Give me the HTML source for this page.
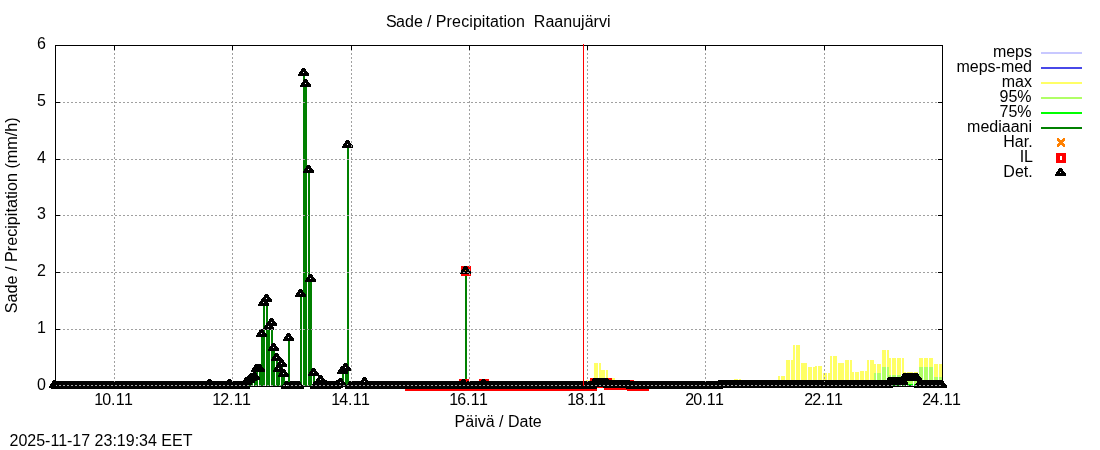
<!DOCTYPE html>
<html><head><meta charset="utf-8"><title>Sade / Precipitation Raanujärvi</title>
<style>
html,body{margin:0;padding:0;background:#fff;}
body{width:1100px;height:450px;overflow:hidden;}
svg{display:block;will-change:transform;}
text{font-family:"Liberation Sans",sans-serif;font-size:16px;fill:#000;}
</style></head><body>
<svg width="1100" height="450" viewBox="0 0 1100 450">
<rect width="1100" height="450" fill="#fff"/>
<g shape-rendering="crispEdges">
<g id="bars">
<rect x="586" y="380" width="2" height="6" fill="#ffff66"/>
<rect x="589" y="380" width="2" height="6" fill="#ffff66"/>
<rect x="594" y="363" width="2" height="23" fill="#ffff66"/>
<rect x="596" y="363" width="2" height="23" fill="#ffff66"/>
<rect x="599" y="363" width="2" height="23" fill="#ffff66"/>
<rect x="601" y="370" width="2" height="16" fill="#ffff66"/>
<rect x="603" y="370" width="2" height="16" fill="#ffff66"/>
<rect x="606" y="370" width="2" height="16" fill="#ffff66"/>
<rect x="611" y="378" width="2" height="8" fill="#ffff66"/>
<rect x="613" y="378" width="2" height="8" fill="#ffff66"/>
<rect x="734" y="379" width="2" height="7" fill="#ffff66"/>
<rect x="736" y="379" width="2" height="7" fill="#ffff66"/>
<rect x="739" y="379" width="2" height="7" fill="#ffff66"/>
<rect x="778" y="376" width="2" height="10" fill="#ffff66"/>
<rect x="781" y="376" width="2" height="10" fill="#ffff66"/>
<rect x="783" y="376" width="2" height="10" fill="#ffff66"/>
<rect x="786" y="360" width="2" height="26" fill="#ffff66"/>
<rect x="788" y="360" width="2" height="26" fill="#ffff66"/>
<rect x="791" y="360" width="2" height="26" fill="#ffff66"/>
<rect x="793" y="345" width="2" height="41" fill="#ffff66"/>
<rect x="796" y="345" width="2" height="41" fill="#ffff66"/>
<rect x="798" y="345" width="2" height="41" fill="#ffff66"/>
<rect x="801" y="363" width="2" height="23" fill="#ffff66"/>
<rect x="803" y="363" width="2" height="23" fill="#ffff66"/>
<rect x="805" y="363" width="2" height="23" fill="#ffff66"/>
<rect x="808" y="367" width="2" height="19" fill="#ffff66"/>
<rect x="810" y="367" width="2" height="19" fill="#ffff66"/>
<rect x="813" y="367" width="2" height="19" fill="#ffff66"/>
<rect x="815" y="366" width="2" height="20" fill="#ffff66"/>
<rect x="818" y="366" width="2" height="20" fill="#ffff66"/>
<rect x="820" y="366" width="2" height="20" fill="#ffff66"/>
<rect x="823" y="373" width="2" height="13" fill="#ffff66"/>
<rect x="825" y="373" width="2" height="13" fill="#ffff66"/>
<rect x="828" y="373" width="2" height="13" fill="#ffff66"/>
<rect x="830" y="356" width="2" height="30" fill="#ffff66"/>
<rect x="833" y="356" width="2" height="30" fill="#ffff66"/>
<rect x="835" y="356" width="2" height="30" fill="#ffff66"/>
<rect x="838" y="363" width="2" height="23" fill="#ffff66"/>
<rect x="840" y="363" width="2" height="23" fill="#ffff66"/>
<rect x="842" y="363" width="2" height="23" fill="#ffff66"/>
<rect x="845" y="360" width="2" height="26" fill="#ffff66"/>
<rect x="847" y="360" width="2" height="26" fill="#ffff66"/>
<rect x="850" y="360" width="2" height="26" fill="#ffff66"/>
<rect x="852" y="372" width="2" height="14" fill="#ffff66"/>
<rect x="855" y="372" width="2" height="14" fill="#ffff66"/>
<rect x="857" y="372" width="2" height="14" fill="#ffff66"/>
<rect x="860" y="371" width="2" height="15" fill="#ffff66"/>
<rect x="862" y="371" width="2" height="15" fill="#ffff66"/>
<rect x="865" y="371" width="2" height="15" fill="#ffff66"/>
<rect x="867" y="360" width="2" height="26" fill="#ffff66"/>
<rect x="870" y="360" width="2" height="26" fill="#ffff66"/>
<rect x="872" y="360" width="2" height="26" fill="#ffff66"/>
<rect x="874" y="364" width="2" height="22" fill="#ffff66"/>
<rect x="877" y="364" width="2" height="22" fill="#ffff66"/>
<rect x="879" y="364" width="2" height="22" fill="#ffff66"/>
<rect x="882" y="350" width="2" height="36" fill="#ffff66"/>
<rect x="884" y="350" width="2" height="36" fill="#ffff66"/>
<rect x="887" y="350" width="2" height="36" fill="#ffff66"/>
<rect x="889" y="358" width="2" height="28" fill="#ffff66"/>
<rect x="892" y="358" width="2" height="28" fill="#ffff66"/>
<rect x="894" y="358" width="2" height="28" fill="#ffff66"/>
<rect x="897" y="358" width="2" height="28" fill="#ffff66"/>
<rect x="899" y="358" width="2" height="28" fill="#ffff66"/>
<rect x="902" y="358" width="2" height="28" fill="#ffff66"/>
<rect x="904" y="372" width="2" height="14" fill="#ffff66"/>
<rect x="907" y="372" width="2" height="14" fill="#ffff66"/>
<rect x="909" y="372" width="2" height="14" fill="#ffff66"/>
<rect x="911" y="372" width="2" height="14" fill="#ffff66"/>
<rect x="914" y="372" width="2" height="14" fill="#ffff66"/>
<rect x="916" y="372" width="2" height="14" fill="#ffff66"/>
<rect x="919" y="358" width="2" height="28" fill="#ffff66"/>
<rect x="921" y="358" width="2" height="28" fill="#ffff66"/>
<rect x="924" y="358" width="2" height="28" fill="#ffff66"/>
<rect x="926" y="358" width="2" height="28" fill="#ffff66"/>
<rect x="929" y="358" width="2" height="28" fill="#ffff66"/>
<rect x="931" y="358" width="2" height="28" fill="#ffff66"/>
<rect x="934" y="364" width="2" height="22" fill="#ffff66"/>
<rect x="936" y="364" width="2" height="22" fill="#ffff66"/>
<rect x="939" y="364" width="2" height="22" fill="#ffff66"/>
<rect x="941" y="364" width="1" height="22" fill="#ffff66"/>
<rect x="874" y="373" width="2" height="13" fill="#b0ff66"/>
<rect x="877" y="373" width="2" height="13" fill="#b0ff66"/>
<rect x="879" y="373" width="2" height="13" fill="#b0ff66"/>
<rect x="882" y="367" width="2" height="19" fill="#b0ff66"/>
<rect x="884" y="367" width="2" height="19" fill="#b0ff66"/>
<rect x="887" y="367" width="2" height="19" fill="#b0ff66"/>
<rect x="889" y="375" width="2" height="11" fill="#b0ff66"/>
<rect x="892" y="375" width="2" height="11" fill="#b0ff66"/>
<rect x="894" y="375" width="2" height="11" fill="#b0ff66"/>
<rect x="897" y="375" width="2" height="11" fill="#b0ff66"/>
<rect x="899" y="375" width="2" height="11" fill="#b0ff66"/>
<rect x="902" y="375" width="2" height="11" fill="#b0ff66"/>
<rect x="904" y="379" width="2" height="7" fill="#b0ff66"/>
<rect x="907" y="379" width="2" height="7" fill="#b0ff66"/>
<rect x="909" y="379" width="2" height="7" fill="#b0ff66"/>
<rect x="911" y="379" width="2" height="7" fill="#b0ff66"/>
<rect x="914" y="379" width="2" height="7" fill="#b0ff66"/>
<rect x="916" y="379" width="2" height="7" fill="#b0ff66"/>
<rect x="919" y="367" width="2" height="19" fill="#b0ff66"/>
<rect x="921" y="367" width="2" height="19" fill="#b0ff66"/>
<rect x="924" y="367" width="2" height="19" fill="#b0ff66"/>
<rect x="926" y="367" width="2" height="19" fill="#b0ff66"/>
<rect x="929" y="367" width="2" height="19" fill="#b0ff66"/>
<rect x="931" y="367" width="2" height="19" fill="#b0ff66"/>
<rect x="934" y="377" width="2" height="9" fill="#b0ff66"/>
<rect x="936" y="377" width="2" height="9" fill="#b0ff66"/>
<rect x="939" y="377" width="2" height="9" fill="#b0ff66"/>
<rect x="941" y="377" width="1" height="9" fill="#b0ff66"/>
<rect x="904" y="384" width="2" height="2" fill="#00ff00"/>
<rect x="907" y="384" width="2" height="2" fill="#00ff00"/>
<rect x="909" y="384" width="2" height="2" fill="#00ff00"/>
<rect x="911" y="384" width="2" height="2" fill="#00ff00"/>
<rect x="914" y="384" width="2" height="2" fill="#00ff00"/>
<rect x="916" y="384" width="2" height="2" fill="#00ff00"/>
<rect x="889" y="385" width="2" height="1" fill="#008000"/>
<rect x="892" y="385" width="2" height="1" fill="#008000"/>
<rect x="894" y="385" width="2" height="1" fill="#008000"/>
<rect x="897" y="385" width="2" height="1" fill="#008000"/>
<rect x="899" y="385" width="2" height="1" fill="#008000"/>
<rect x="902" y="385" width="2" height="1" fill="#008000"/>
<rect x="904" y="385" width="2" height="1" fill="#008000"/>
<rect x="907" y="385" width="2" height="1" fill="#008000"/>
<rect x="909" y="385" width="2" height="1" fill="#008000"/>
<rect x="209" y="384" width="2" height="2" fill="#008000"/>
<rect x="229" y="384" width="2" height="2" fill="#008000"/>
<rect x="246" y="382" width="2" height="4" fill="#008000"/>
<rect x="249" y="380" width="2" height="6" fill="#008000"/>
<rect x="251" y="378" width="2" height="8" fill="#008000"/>
<rect x="254" y="377" width="2" height="9" fill="#008000"/>
<rect x="256" y="369" width="2" height="17" fill="#008000"/>
<rect x="259" y="369" width="2" height="17" fill="#008000"/>
<rect x="261" y="334" width="2" height="52" fill="#008000"/>
<rect x="263" y="303" width="2" height="83" fill="#008000"/>
<rect x="266" y="299" width="2" height="87" fill="#008000"/>
<rect x="268" y="327" width="2" height="59" fill="#008000"/>
<rect x="271" y="323" width="2" height="63" fill="#008000"/>
<rect x="273" y="348" width="2" height="38" fill="#008000"/>
<rect x="276" y="358" width="2" height="28" fill="#008000"/>
<rect x="278" y="369" width="2" height="17" fill="#008000"/>
<rect x="281" y="364" width="2" height="22" fill="#008000"/>
<rect x="283" y="374" width="2" height="12" fill="#008000"/>
<rect x="288" y="338" width="2" height="48" fill="#008000"/>
<rect x="300" y="294" width="2" height="92" fill="#008000"/>
<rect x="303" y="73" width="2" height="313" fill="#008000"/>
<rect x="305" y="84" width="2" height="302" fill="#008000"/>
<rect x="308" y="170" width="2" height="216" fill="#008000"/>
<rect x="310" y="279" width="2" height="107" fill="#008000"/>
<rect x="313" y="373" width="2" height="13" fill="#008000"/>
<rect x="320" y="380" width="2" height="6" fill="#008000"/>
<rect x="340" y="383" width="2" height="3" fill="#008000"/>
<rect x="342" y="371" width="2" height="15" fill="#008000"/>
<rect x="345" y="368" width="2" height="18" fill="#008000"/>
<rect x="347" y="145" width="2" height="241" fill="#008000"/>
<rect x="364" y="382" width="2" height="4" fill="#008000"/>
<rect x="465" y="271" width="2" height="115" fill="#008000"/>
</g>
<defs><path id="t" d="M-1 -4h3v1h-3zM-2 -3h5v1h-5zM-2 -2h5v1h-5zM-3 -1h7v1h-7zM-4 0h4v1h-4zM1 0h4v1h-4zM-4 1h10v1h-10zM-5 2h11v1h-11zM-5 3h11v1h-11z" fill="#000"/><path id="q" d="M-4 -4h10v10h-10zM0 -1v4h2v-4z" fill="#f00" fill-rule="evenodd"/><path id="x" d="M-3 -4h2v1h-2zM3 -4h2v1h-2zM-3 -3h3v1h-3zM2 -3h3v1h-3zM-3 -2h8v1h-8zM-2 -1h6v1h-6zM-1 0h4v1h-4zM-2 1h6v1h-6zM-3 2h8v1h-8zM-3 3h3v1h-3zM2 3h3v1h-3zM-3 4h2v1h-2zM3 4h2v1h-2z" fill="#ff8000"/></defs>
<use href="#x" x="465" y="270"/>
<g id="il">
<use href="#q" x="409" y="385"/>
<use href="#q" x="411" y="385"/>
<use href="#q" x="414" y="385"/>
<use href="#q" x="416" y="385"/>
<use href="#q" x="419" y="385"/>
<use href="#q" x="421" y="385"/>
<use href="#q" x="424" y="385"/>
<use href="#q" x="426" y="385"/>
<use href="#q" x="429" y="385"/>
<use href="#q" x="431" y="385"/>
<use href="#q" x="433" y="385"/>
<use href="#q" x="436" y="385"/>
<use href="#q" x="438" y="385"/>
<use href="#q" x="441" y="385"/>
<use href="#q" x="443" y="385"/>
<use href="#q" x="446" y="385"/>
<use href="#q" x="448" y="385"/>
<use href="#q" x="451" y="385"/>
<use href="#q" x="453" y="385"/>
<use href="#q" x="456" y="385"/>
<use href="#q" x="458" y="385"/>
<use href="#q" x="461" y="385"/>
<use href="#q" x="463" y="383"/>
<use href="#q" x="465" y="270"/>
<use href="#q" x="468" y="385"/>
<use href="#q" x="470" y="385"/>
<use href="#q" x="473" y="385"/>
<use href="#q" x="475" y="385"/>
<use href="#q" x="478" y="385"/>
<use href="#q" x="480" y="385"/>
<use href="#q" x="483" y="383"/>
<use href="#q" x="485" y="385"/>
<use href="#q" x="488" y="385"/>
<use href="#q" x="490" y="385"/>
<use href="#q" x="493" y="385"/>
<use href="#q" x="495" y="385"/>
<use href="#q" x="498" y="385"/>
<use href="#q" x="500" y="385"/>
<use href="#q" x="502" y="385"/>
<use href="#q" x="505" y="385"/>
<use href="#q" x="507" y="385"/>
<use href="#q" x="510" y="385"/>
<use href="#q" x="512" y="385"/>
<use href="#q" x="515" y="385"/>
<use href="#q" x="517" y="385"/>
<use href="#q" x="520" y="385"/>
<use href="#q" x="522" y="385"/>
<use href="#q" x="525" y="385"/>
<use href="#q" x="527" y="385"/>
<use href="#q" x="530" y="385"/>
<use href="#q" x="532" y="385"/>
<use href="#q" x="534" y="385"/>
<use href="#q" x="537" y="385"/>
<use href="#q" x="539" y="385"/>
<use href="#q" x="542" y="385"/>
<use href="#q" x="544" y="385"/>
<use href="#q" x="547" y="385"/>
<use href="#q" x="549" y="385"/>
<use href="#q" x="552" y="385"/>
<use href="#q" x="554" y="385"/>
<use href="#q" x="557" y="385"/>
<use href="#q" x="559" y="385"/>
<use href="#q" x="562" y="385"/>
<use href="#q" x="564" y="385"/>
<use href="#q" x="566" y="385"/>
<use href="#q" x="569" y="385"/>
<use href="#q" x="571" y="385"/>
<use href="#q" x="574" y="385"/>
<use href="#q" x="576" y="385"/>
<use href="#q" x="579" y="385"/>
<use href="#q" x="581" y="385"/>
<use href="#q" x="584" y="385"/>
<use href="#q" x="586" y="385"/>
<use href="#q" x="589" y="385"/>
<use href="#q" x="591" y="385"/>
<use href="#q" x="594" y="382"/>
<use href="#q" x="596" y="382"/>
<use href="#q" x="599" y="382"/>
<use href="#q" x="601" y="382"/>
<use href="#q" x="603" y="382"/>
<use href="#q" x="606" y="382"/>
<use href="#q" x="608" y="384"/>
<use href="#q" x="611" y="384"/>
<use href="#q" x="613" y="384"/>
<use href="#q" x="616" y="384"/>
<use href="#q" x="618" y="384"/>
<use href="#q" x="621" y="384"/>
<use href="#q" x="623" y="384"/>
<use href="#q" x="626" y="384"/>
<use href="#q" x="628" y="384"/>
<use href="#q" x="631" y="385"/>
<use href="#q" x="633" y="385"/>
<use href="#q" x="635" y="385"/>
<use href="#q" x="638" y="385"/>
<use href="#q" x="640" y="385"/>
<use href="#q" x="643" y="385"/>
</g>
<g id="det">
<use href="#t" x="54" y="384"/>
<use href="#t" x="56" y="385"/>
<use href="#t" x="59" y="385"/>
<use href="#t" x="61" y="385"/>
<use href="#t" x="64" y="385"/>
<use href="#t" x="66" y="385"/>
<use href="#t" x="69" y="385"/>
<use href="#t" x="71" y="385"/>
<use href="#t" x="74" y="385"/>
<use href="#t" x="76" y="385"/>
<use href="#t" x="79" y="385"/>
<use href="#t" x="81" y="385"/>
<use href="#t" x="84" y="385"/>
<use href="#t" x="86" y="385"/>
<use href="#t" x="88" y="385"/>
<use href="#t" x="91" y="385"/>
<use href="#t" x="93" y="385"/>
<use href="#t" x="96" y="385"/>
<use href="#t" x="98" y="385"/>
<use href="#t" x="101" y="385"/>
<use href="#t" x="103" y="385"/>
<use href="#t" x="106" y="385"/>
<use href="#t" x="108" y="385"/>
<use href="#t" x="111" y="385"/>
<use href="#t" x="113" y="385"/>
<use href="#t" x="116" y="385"/>
<use href="#t" x="118" y="385"/>
<use href="#t" x="121" y="385"/>
<use href="#t" x="123" y="385"/>
<use href="#t" x="125" y="385"/>
<use href="#t" x="128" y="385"/>
<use href="#t" x="130" y="385"/>
<use href="#t" x="133" y="385"/>
<use href="#t" x="135" y="385"/>
<use href="#t" x="138" y="385"/>
<use href="#t" x="140" y="385"/>
<use href="#t" x="143" y="385"/>
<use href="#t" x="145" y="385"/>
<use href="#t" x="148" y="385"/>
<use href="#t" x="150" y="385"/>
<use href="#t" x="153" y="385"/>
<use href="#t" x="155" y="385"/>
<use href="#t" x="157" y="385"/>
<use href="#t" x="160" y="385"/>
<use href="#t" x="162" y="385"/>
<use href="#t" x="165" y="385"/>
<use href="#t" x="167" y="385"/>
<use href="#t" x="170" y="385"/>
<use href="#t" x="172" y="385"/>
<use href="#t" x="175" y="385"/>
<use href="#t" x="177" y="385"/>
<use href="#t" x="180" y="385"/>
<use href="#t" x="182" y="385"/>
<use href="#t" x="185" y="385"/>
<use href="#t" x="187" y="385"/>
<use href="#t" x="190" y="385"/>
<use href="#t" x="192" y="385"/>
<use href="#t" x="194" y="385"/>
<use href="#t" x="197" y="385"/>
<use href="#t" x="199" y="385"/>
<use href="#t" x="202" y="385"/>
<use href="#t" x="204" y="385"/>
<use href="#t" x="207" y="385"/>
<use href="#t" x="209" y="383"/>
<use href="#t" x="212" y="385"/>
<use href="#t" x="214" y="385"/>
<use href="#t" x="217" y="385"/>
<use href="#t" x="219" y="385"/>
<use href="#t" x="222" y="385"/>
<use href="#t" x="224" y="385"/>
<use href="#t" x="226" y="385"/>
<use href="#t" x="229" y="383"/>
<use href="#t" x="231" y="385"/>
<use href="#t" x="234" y="385"/>
<use href="#t" x="236" y="385"/>
<use href="#t" x="239" y="385"/>
<use href="#t" x="241" y="385"/>
<use href="#t" x="244" y="385"/>
<use href="#t" x="246" y="381"/>
<use href="#t" x="249" y="379"/>
<use href="#t" x="251" y="377"/>
<use href="#t" x="254" y="376"/>
<use href="#t" x="256" y="368"/>
<use href="#t" x="259" y="368"/>
<use href="#t" x="261" y="333"/>
<use href="#t" x="263" y="302"/>
<use href="#t" x="266" y="298"/>
<use href="#t" x="268" y="326"/>
<use href="#t" x="271" y="322"/>
<use href="#t" x="273" y="347"/>
<use href="#t" x="276" y="357"/>
<use href="#t" x="278" y="368"/>
<use href="#t" x="281" y="363"/>
<use href="#t" x="283" y="373"/>
<use href="#t" x="286" y="385"/>
<use href="#t" x="288" y="337"/>
<use href="#t" x="291" y="385"/>
<use href="#t" x="293" y="385"/>
<use href="#t" x="295" y="385"/>
<use href="#t" x="298" y="385"/>
<use href="#t" x="300" y="293"/>
<use href="#t" x="303" y="72"/>
<use href="#t" x="305" y="83"/>
<use href="#t" x="308" y="169"/>
<use href="#t" x="310" y="278"/>
<use href="#t" x="313" y="372"/>
<use href="#t" x="315" y="385"/>
<use href="#t" x="318" y="385"/>
<use href="#t" x="320" y="379"/>
<use href="#t" x="323" y="385"/>
<use href="#t" x="325" y="384"/>
<use href="#t" x="327" y="385"/>
<use href="#t" x="330" y="385"/>
<use href="#t" x="332" y="385"/>
<use href="#t" x="335" y="385"/>
<use href="#t" x="337" y="384"/>
<use href="#t" x="340" y="382"/>
<use href="#t" x="342" y="370"/>
<use href="#t" x="345" y="367"/>
<use href="#t" x="347" y="144"/>
<use href="#t" x="350" y="385"/>
<use href="#t" x="352" y="385"/>
<use href="#t" x="355" y="385"/>
<use href="#t" x="357" y="385"/>
<use href="#t" x="360" y="385"/>
<use href="#t" x="362" y="385"/>
<use href="#t" x="364" y="381"/>
<use href="#t" x="367" y="385"/>
<use href="#t" x="369" y="385"/>
<use href="#t" x="372" y="385"/>
<use href="#t" x="374" y="385"/>
<use href="#t" x="377" y="385"/>
<use href="#t" x="379" y="385"/>
<use href="#t" x="382" y="385"/>
<use href="#t" x="384" y="385"/>
<use href="#t" x="387" y="385"/>
<use href="#t" x="389" y="385"/>
<use href="#t" x="392" y="385"/>
<use href="#t" x="394" y="385"/>
<use href="#t" x="396" y="385"/>
<use href="#t" x="399" y="385"/>
<use href="#t" x="401" y="385"/>
<use href="#t" x="404" y="385"/>
<use href="#t" x="406" y="385"/>
<use href="#t" x="409" y="385"/>
<use href="#t" x="411" y="385"/>
<use href="#t" x="414" y="385"/>
<use href="#t" x="416" y="385"/>
<use href="#t" x="419" y="385"/>
<use href="#t" x="421" y="385"/>
<use href="#t" x="424" y="385"/>
<use href="#t" x="426" y="385"/>
<use href="#t" x="429" y="385"/>
<use href="#t" x="431" y="385"/>
<use href="#t" x="433" y="385"/>
<use href="#t" x="436" y="385"/>
<use href="#t" x="438" y="385"/>
<use href="#t" x="441" y="385"/>
<use href="#t" x="443" y="385"/>
<use href="#t" x="446" y="385"/>
<use href="#t" x="448" y="385"/>
<use href="#t" x="451" y="385"/>
<use href="#t" x="453" y="385"/>
<use href="#t" x="456" y="385"/>
<use href="#t" x="458" y="385"/>
<use href="#t" x="461" y="385"/>
<use href="#t" x="463" y="383"/>
<use href="#t" x="465" y="270"/>
<use href="#t" x="468" y="385"/>
<use href="#t" x="470" y="385"/>
<use href="#t" x="473" y="385"/>
<use href="#t" x="475" y="385"/>
<use href="#t" x="478" y="385"/>
<use href="#t" x="480" y="385"/>
<use href="#t" x="483" y="383"/>
<use href="#t" x="485" y="385"/>
<use href="#t" x="488" y="385"/>
<use href="#t" x="490" y="385"/>
<use href="#t" x="493" y="385"/>
<use href="#t" x="495" y="385"/>
<use href="#t" x="498" y="385"/>
<use href="#t" x="500" y="385"/>
<use href="#t" x="502" y="385"/>
<use href="#t" x="505" y="385"/>
<use href="#t" x="507" y="385"/>
<use href="#t" x="510" y="385"/>
<use href="#t" x="512" y="385"/>
<use href="#t" x="515" y="385"/>
<use href="#t" x="517" y="385"/>
<use href="#t" x="520" y="385"/>
<use href="#t" x="522" y="385"/>
<use href="#t" x="525" y="385"/>
<use href="#t" x="527" y="385"/>
<use href="#t" x="530" y="385"/>
<use href="#t" x="532" y="385"/>
<use href="#t" x="534" y="385"/>
<use href="#t" x="537" y="385"/>
<use href="#t" x="539" y="385"/>
<use href="#t" x="542" y="385"/>
<use href="#t" x="544" y="385"/>
<use href="#t" x="547" y="385"/>
<use href="#t" x="549" y="385"/>
<use href="#t" x="552" y="385"/>
<use href="#t" x="554" y="385"/>
<use href="#t" x="557" y="385"/>
<use href="#t" x="559" y="385"/>
<use href="#t" x="562" y="385"/>
<use href="#t" x="564" y="385"/>
<use href="#t" x="566" y="385"/>
<use href="#t" x="569" y="385"/>
<use href="#t" x="571" y="385"/>
<use href="#t" x="574" y="385"/>
<use href="#t" x="576" y="385"/>
<use href="#t" x="579" y="385"/>
<use href="#t" x="581" y="385"/>
<use href="#t" x="584" y="385"/>
<use href="#t" x="586" y="385"/>
<use href="#t" x="589" y="385"/>
<use href="#t" x="591" y="385"/>
<use href="#t" x="594" y="382"/>
<use href="#t" x="596" y="382"/>
<use href="#t" x="599" y="382"/>
<use href="#t" x="601" y="382"/>
<use href="#t" x="603" y="382"/>
<use href="#t" x="606" y="382"/>
<use href="#t" x="608" y="384"/>
<use href="#t" x="611" y="384"/>
<use href="#t" x="613" y="384"/>
<use href="#t" x="616" y="384"/>
<use href="#t" x="618" y="384"/>
<use href="#t" x="621" y="384"/>
<use href="#t" x="623" y="384"/>
<use href="#t" x="626" y="384"/>
<use href="#t" x="628" y="384"/>
<use href="#t" x="631" y="385"/>
<use href="#t" x="633" y="385"/>
<use href="#t" x="635" y="385"/>
<use href="#t" x="638" y="385"/>
<use href="#t" x="640" y="385"/>
<use href="#t" x="643" y="385"/>
<use href="#t" x="645" y="385"/>
<use href="#t" x="648" y="385"/>
<use href="#t" x="650" y="385"/>
<use href="#t" x="653" y="385"/>
<use href="#t" x="655" y="385"/>
<use href="#t" x="658" y="385"/>
<use href="#t" x="660" y="385"/>
<use href="#t" x="663" y="385"/>
<use href="#t" x="665" y="385"/>
<use href="#t" x="668" y="385"/>
<use href="#t" x="670" y="385"/>
<use href="#t" x="672" y="385"/>
<use href="#t" x="675" y="385"/>
<use href="#t" x="677" y="385"/>
<use href="#t" x="680" y="385"/>
<use href="#t" x="682" y="385"/>
<use href="#t" x="685" y="385"/>
<use href="#t" x="687" y="385"/>
<use href="#t" x="690" y="385"/>
<use href="#t" x="692" y="385"/>
<use href="#t" x="695" y="385"/>
<use href="#t" x="697" y="385"/>
<use href="#t" x="700" y="385"/>
<use href="#t" x="702" y="385"/>
<use href="#t" x="704" y="385"/>
<use href="#t" x="707" y="385"/>
<use href="#t" x="709" y="385"/>
<use href="#t" x="712" y="385"/>
<use href="#t" x="714" y="385"/>
<use href="#t" x="717" y="385"/>
<use href="#t" x="719" y="384"/>
<use href="#t" x="722" y="384"/>
<use href="#t" x="724" y="384"/>
<use href="#t" x="727" y="384"/>
<use href="#t" x="729" y="384"/>
<use href="#t" x="732" y="384"/>
<use href="#t" x="734" y="384"/>
<use href="#t" x="736" y="384"/>
<use href="#t" x="739" y="384"/>
<use href="#t" x="741" y="384"/>
<use href="#t" x="744" y="384"/>
<use href="#t" x="746" y="384"/>
<use href="#t" x="749" y="384"/>
<use href="#t" x="751" y="384"/>
<use href="#t" x="754" y="384"/>
<use href="#t" x="756" y="384"/>
<use href="#t" x="759" y="384"/>
<use href="#t" x="761" y="384"/>
<use href="#t" x="764" y="384"/>
<use href="#t" x="766" y="384"/>
<use href="#t" x="769" y="384"/>
<use href="#t" x="771" y="384"/>
<use href="#t" x="773" y="384"/>
<use href="#t" x="776" y="384"/>
<use href="#t" x="778" y="384"/>
<use href="#t" x="781" y="384"/>
<use href="#t" x="783" y="384"/>
<use href="#t" x="786" y="384"/>
<use href="#t" x="788" y="384"/>
<use href="#t" x="791" y="384"/>
<use href="#t" x="793" y="384"/>
<use href="#t" x="796" y="384"/>
<use href="#t" x="798" y="384"/>
<use href="#t" x="801" y="384"/>
<use href="#t" x="803" y="384"/>
<use href="#t" x="805" y="384"/>
<use href="#t" x="808" y="384"/>
<use href="#t" x="810" y="384"/>
<use href="#t" x="813" y="384"/>
<use href="#t" x="815" y="384"/>
<use href="#t" x="818" y="384"/>
<use href="#t" x="820" y="384"/>
<use href="#t" x="823" y="384"/>
<use href="#t" x="825" y="384"/>
<use href="#t" x="828" y="384"/>
<use href="#t" x="830" y="384"/>
<use href="#t" x="833" y="384"/>
<use href="#t" x="835" y="384"/>
<use href="#t" x="838" y="384"/>
<use href="#t" x="840" y="384"/>
<use href="#t" x="842" y="384"/>
<use href="#t" x="845" y="384"/>
<use href="#t" x="847" y="384"/>
<use href="#t" x="850" y="384"/>
<use href="#t" x="852" y="384"/>
<use href="#t" x="855" y="384"/>
<use href="#t" x="857" y="384"/>
<use href="#t" x="860" y="384"/>
<use href="#t" x="862" y="384"/>
<use href="#t" x="865" y="384"/>
<use href="#t" x="867" y="384"/>
<use href="#t" x="870" y="384"/>
<use href="#t" x="872" y="384"/>
<use href="#t" x="874" y="384"/>
<use href="#t" x="877" y="384"/>
<use href="#t" x="879" y="384"/>
<use href="#t" x="882" y="384"/>
<use href="#t" x="884" y="384"/>
<use href="#t" x="887" y="384"/>
<use href="#t" x="889" y="381"/>
<use href="#t" x="892" y="381"/>
<use href="#t" x="894" y="381"/>
<use href="#t" x="897" y="381"/>
<use href="#t" x="899" y="381"/>
<use href="#t" x="902" y="381"/>
<use href="#t" x="904" y="377"/>
<use href="#t" x="907" y="377"/>
<use href="#t" x="909" y="377"/>
<use href="#t" x="911" y="377"/>
<use href="#t" x="914" y="377"/>
<use href="#t" x="916" y="377"/>
<use href="#t" x="919" y="384"/>
<use href="#t" x="921" y="384"/>
<use href="#t" x="924" y="384"/>
<use href="#t" x="926" y="384"/>
<use href="#t" x="929" y="384"/>
<use href="#t" x="931" y="384"/>
<use href="#t" x="934" y="384"/>
<use href="#t" x="936" y="384"/>
<use href="#t" x="939" y="384"/>
<use href="#t" x="941" y="384"/>
</g>
<g id="grid">
<path d="M114 45h1v2h-1zM114 49h1v2h-1zM114 53h1v2h-1zM114 57h1v2h-1zM114 61h1v2h-1zM114 65h1v2h-1zM114 69h1v2h-1zM114 73h1v2h-1zM114 77h1v2h-1zM114 81h1v2h-1zM114 85h1v2h-1zM114 89h1v2h-1zM114 93h1v2h-1zM114 97h1v2h-1zM114 101h1v2h-1zM114 105h1v2h-1zM114 109h1v2h-1zM114 113h1v2h-1zM114 117h1v2h-1zM114 121h1v2h-1zM114 125h1v2h-1zM114 129h1v2h-1zM114 133h1v2h-1zM114 137h1v2h-1zM114 141h1v2h-1zM114 145h1v2h-1zM114 149h1v2h-1zM114 153h1v2h-1zM114 157h1v2h-1zM114 161h1v2h-1zM114 165h1v2h-1zM114 169h1v2h-1zM114 173h1v2h-1zM114 177h1v2h-1zM114 181h1v2h-1zM114 185h1v2h-1zM114 189h1v2h-1zM114 193h1v2h-1zM114 197h1v2h-1zM114 201h1v2h-1zM114 205h1v2h-1zM114 209h1v2h-1zM114 213h1v2h-1zM114 217h1v2h-1zM114 221h1v2h-1zM114 225h1v2h-1zM114 229h1v2h-1zM114 233h1v2h-1zM114 237h1v2h-1zM114 241h1v2h-1zM114 245h1v2h-1zM114 249h1v2h-1zM114 253h1v2h-1zM114 257h1v2h-1zM114 261h1v2h-1zM114 265h1v2h-1zM114 269h1v2h-1zM114 273h1v2h-1zM114 277h1v2h-1zM114 281h1v2h-1zM114 285h1v2h-1zM114 289h1v2h-1zM114 293h1v2h-1zM114 297h1v2h-1zM114 301h1v2h-1zM114 305h1v2h-1zM114 309h1v2h-1zM114 313h1v2h-1zM114 317h1v2h-1zM114 321h1v2h-1zM114 325h1v2h-1zM114 329h1v2h-1zM114 333h1v2h-1zM114 337h1v2h-1zM114 341h1v2h-1zM114 345h1v2h-1zM114 349h1v2h-1zM114 353h1v2h-1zM114 357h1v2h-1zM114 361h1v2h-1zM114 365h1v2h-1zM114 369h1v2h-1zM114 373h1v2h-1zM114 377h1v2h-1zM114 381h1v2h-1zM114 385h1v1h-1zM232 45h1v2h-1zM232 49h1v2h-1zM232 53h1v2h-1zM232 57h1v2h-1zM232 61h1v2h-1zM232 65h1v2h-1zM232 69h1v2h-1zM232 73h1v2h-1zM232 77h1v2h-1zM232 81h1v2h-1zM232 85h1v2h-1zM232 89h1v2h-1zM232 93h1v2h-1zM232 97h1v2h-1zM232 101h1v2h-1zM232 105h1v2h-1zM232 109h1v2h-1zM232 113h1v2h-1zM232 117h1v2h-1zM232 121h1v2h-1zM232 125h1v2h-1zM232 129h1v2h-1zM232 133h1v2h-1zM232 137h1v2h-1zM232 141h1v2h-1zM232 145h1v2h-1zM232 149h1v2h-1zM232 153h1v2h-1zM232 157h1v2h-1zM232 161h1v2h-1zM232 165h1v2h-1zM232 169h1v2h-1zM232 173h1v2h-1zM232 177h1v2h-1zM232 181h1v2h-1zM232 185h1v2h-1zM232 189h1v2h-1zM232 193h1v2h-1zM232 197h1v2h-1zM232 201h1v2h-1zM232 205h1v2h-1zM232 209h1v2h-1zM232 213h1v2h-1zM232 217h1v2h-1zM232 221h1v2h-1zM232 225h1v2h-1zM232 229h1v2h-1zM232 233h1v2h-1zM232 237h1v2h-1zM232 241h1v2h-1zM232 245h1v2h-1zM232 249h1v2h-1zM232 253h1v2h-1zM232 257h1v2h-1zM232 261h1v2h-1zM232 265h1v2h-1zM232 269h1v2h-1zM232 273h1v2h-1zM232 277h1v2h-1zM232 281h1v2h-1zM232 285h1v2h-1zM232 289h1v2h-1zM232 293h1v2h-1zM232 297h1v2h-1zM232 301h1v2h-1zM232 305h1v2h-1zM232 309h1v2h-1zM232 313h1v2h-1zM232 317h1v2h-1zM232 321h1v2h-1zM232 325h1v2h-1zM232 329h1v2h-1zM232 333h1v2h-1zM232 337h1v2h-1zM232 341h1v2h-1zM232 345h1v2h-1zM232 349h1v2h-1zM232 353h1v2h-1zM232 357h1v2h-1zM232 361h1v2h-1zM232 365h1v2h-1zM232 369h1v2h-1zM232 373h1v2h-1zM232 377h1v2h-1zM232 381h1v2h-1zM232 385h1v1h-1zM351 45h1v2h-1zM351 49h1v2h-1zM351 53h1v2h-1zM351 57h1v2h-1zM351 61h1v2h-1zM351 65h1v2h-1zM351 69h1v2h-1zM351 73h1v2h-1zM351 77h1v2h-1zM351 81h1v2h-1zM351 85h1v2h-1zM351 89h1v2h-1zM351 93h1v2h-1zM351 97h1v2h-1zM351 101h1v2h-1zM351 105h1v2h-1zM351 109h1v2h-1zM351 113h1v2h-1zM351 117h1v2h-1zM351 121h1v2h-1zM351 125h1v2h-1zM351 129h1v2h-1zM351 133h1v2h-1zM351 137h1v2h-1zM351 141h1v2h-1zM351 145h1v2h-1zM351 149h1v2h-1zM351 153h1v2h-1zM351 157h1v2h-1zM351 161h1v2h-1zM351 165h1v2h-1zM351 169h1v2h-1zM351 173h1v2h-1zM351 177h1v2h-1zM351 181h1v2h-1zM351 185h1v2h-1zM351 189h1v2h-1zM351 193h1v2h-1zM351 197h1v2h-1zM351 201h1v2h-1zM351 205h1v2h-1zM351 209h1v2h-1zM351 213h1v2h-1zM351 217h1v2h-1zM351 221h1v2h-1zM351 225h1v2h-1zM351 229h1v2h-1zM351 233h1v2h-1zM351 237h1v2h-1zM351 241h1v2h-1zM351 245h1v2h-1zM351 249h1v2h-1zM351 253h1v2h-1zM351 257h1v2h-1zM351 261h1v2h-1zM351 265h1v2h-1zM351 269h1v2h-1zM351 273h1v2h-1zM351 277h1v2h-1zM351 281h1v2h-1zM351 285h1v2h-1zM351 289h1v2h-1zM351 293h1v2h-1zM351 297h1v2h-1zM351 301h1v2h-1zM351 305h1v2h-1zM351 309h1v2h-1zM351 313h1v2h-1zM351 317h1v2h-1zM351 321h1v2h-1zM351 325h1v2h-1zM351 329h1v2h-1zM351 333h1v2h-1zM351 337h1v2h-1zM351 341h1v2h-1zM351 345h1v2h-1zM351 349h1v2h-1zM351 353h1v2h-1zM351 357h1v2h-1zM351 361h1v2h-1zM351 365h1v2h-1zM351 369h1v2h-1zM351 373h1v2h-1zM351 377h1v2h-1zM351 381h1v2h-1zM351 385h1v1h-1zM469 45h1v2h-1zM469 49h1v2h-1zM469 53h1v2h-1zM469 57h1v2h-1zM469 61h1v2h-1zM469 65h1v2h-1zM469 69h1v2h-1zM469 73h1v2h-1zM469 77h1v2h-1zM469 81h1v2h-1zM469 85h1v2h-1zM469 89h1v2h-1zM469 93h1v2h-1zM469 97h1v2h-1zM469 101h1v2h-1zM469 105h1v2h-1zM469 109h1v2h-1zM469 113h1v2h-1zM469 117h1v2h-1zM469 121h1v2h-1zM469 125h1v2h-1zM469 129h1v2h-1zM469 133h1v2h-1zM469 137h1v2h-1zM469 141h1v2h-1zM469 145h1v2h-1zM469 149h1v2h-1zM469 153h1v2h-1zM469 157h1v2h-1zM469 161h1v2h-1zM469 165h1v2h-1zM469 169h1v2h-1zM469 173h1v2h-1zM469 177h1v2h-1zM469 181h1v2h-1zM469 185h1v2h-1zM469 189h1v2h-1zM469 193h1v2h-1zM469 197h1v2h-1zM469 201h1v2h-1zM469 205h1v2h-1zM469 209h1v2h-1zM469 213h1v2h-1zM469 217h1v2h-1zM469 221h1v2h-1zM469 225h1v2h-1zM469 229h1v2h-1zM469 233h1v2h-1zM469 237h1v2h-1zM469 241h1v2h-1zM469 245h1v2h-1zM469 249h1v2h-1zM469 253h1v2h-1zM469 257h1v2h-1zM469 261h1v2h-1zM469 265h1v2h-1zM469 269h1v2h-1zM469 273h1v2h-1zM469 277h1v2h-1zM469 281h1v2h-1zM469 285h1v2h-1zM469 289h1v2h-1zM469 293h1v2h-1zM469 297h1v2h-1zM469 301h1v2h-1zM469 305h1v2h-1zM469 309h1v2h-1zM469 313h1v2h-1zM469 317h1v2h-1zM469 321h1v2h-1zM469 325h1v2h-1zM469 329h1v2h-1zM469 333h1v2h-1zM469 337h1v2h-1zM469 341h1v2h-1zM469 345h1v2h-1zM469 349h1v2h-1zM469 353h1v2h-1zM469 357h1v2h-1zM469 361h1v2h-1zM469 365h1v2h-1zM469 369h1v2h-1zM469 373h1v2h-1zM469 377h1v2h-1zM469 381h1v2h-1zM469 385h1v1h-1zM587 45h1v2h-1zM587 49h1v2h-1zM587 53h1v2h-1zM587 57h1v2h-1zM587 61h1v2h-1zM587 65h1v2h-1zM587 69h1v2h-1zM587 73h1v2h-1zM587 77h1v2h-1zM587 81h1v2h-1zM587 85h1v2h-1zM587 89h1v2h-1zM587 93h1v2h-1zM587 97h1v2h-1zM587 101h1v2h-1zM587 105h1v2h-1zM587 109h1v2h-1zM587 113h1v2h-1zM587 117h1v2h-1zM587 121h1v2h-1zM587 125h1v2h-1zM587 129h1v2h-1zM587 133h1v2h-1zM587 137h1v2h-1zM587 141h1v2h-1zM587 145h1v2h-1zM587 149h1v2h-1zM587 153h1v2h-1zM587 157h1v2h-1zM587 161h1v2h-1zM587 165h1v2h-1zM587 169h1v2h-1zM587 173h1v2h-1zM587 177h1v2h-1zM587 181h1v2h-1zM587 185h1v2h-1zM587 189h1v2h-1zM587 193h1v2h-1zM587 197h1v2h-1zM587 201h1v2h-1zM587 205h1v2h-1zM587 209h1v2h-1zM587 213h1v2h-1zM587 217h1v2h-1zM587 221h1v2h-1zM587 225h1v2h-1zM587 229h1v2h-1zM587 233h1v2h-1zM587 237h1v2h-1zM587 241h1v2h-1zM587 245h1v2h-1zM587 249h1v2h-1zM587 253h1v2h-1zM587 257h1v2h-1zM587 261h1v2h-1zM587 265h1v2h-1zM587 269h1v2h-1zM587 273h1v2h-1zM587 277h1v2h-1zM587 281h1v2h-1zM587 285h1v2h-1zM587 289h1v2h-1zM587 293h1v2h-1zM587 297h1v2h-1zM587 301h1v2h-1zM587 305h1v2h-1zM587 309h1v2h-1zM587 313h1v2h-1zM587 317h1v2h-1zM587 321h1v2h-1zM587 325h1v2h-1zM587 329h1v2h-1zM587 333h1v2h-1zM587 337h1v2h-1zM587 341h1v2h-1zM587 345h1v2h-1zM587 349h1v2h-1zM587 353h1v2h-1zM587 357h1v2h-1zM587 361h1v2h-1zM587 365h1v2h-1zM587 369h1v2h-1zM587 373h1v2h-1zM587 377h1v2h-1zM587 381h1v2h-1zM587 385h1v1h-1zM705 45h1v2h-1zM705 49h1v2h-1zM705 53h1v2h-1zM705 57h1v2h-1zM705 61h1v2h-1zM705 65h1v2h-1zM705 69h1v2h-1zM705 73h1v2h-1zM705 77h1v2h-1zM705 81h1v2h-1zM705 85h1v2h-1zM705 89h1v2h-1zM705 93h1v2h-1zM705 97h1v2h-1zM705 101h1v2h-1zM705 105h1v2h-1zM705 109h1v2h-1zM705 113h1v2h-1zM705 117h1v2h-1zM705 121h1v2h-1zM705 125h1v2h-1zM705 129h1v2h-1zM705 133h1v2h-1zM705 137h1v2h-1zM705 141h1v2h-1zM705 145h1v2h-1zM705 149h1v2h-1zM705 153h1v2h-1zM705 157h1v2h-1zM705 161h1v2h-1zM705 165h1v2h-1zM705 169h1v2h-1zM705 173h1v2h-1zM705 177h1v2h-1zM705 181h1v2h-1zM705 185h1v2h-1zM705 189h1v2h-1zM705 193h1v2h-1zM705 197h1v2h-1zM705 201h1v2h-1zM705 205h1v2h-1zM705 209h1v2h-1zM705 213h1v2h-1zM705 217h1v2h-1zM705 221h1v2h-1zM705 225h1v2h-1zM705 229h1v2h-1zM705 233h1v2h-1zM705 237h1v2h-1zM705 241h1v2h-1zM705 245h1v2h-1zM705 249h1v2h-1zM705 253h1v2h-1zM705 257h1v2h-1zM705 261h1v2h-1zM705 265h1v2h-1zM705 269h1v2h-1zM705 273h1v2h-1zM705 277h1v2h-1zM705 281h1v2h-1zM705 285h1v2h-1zM705 289h1v2h-1zM705 293h1v2h-1zM705 297h1v2h-1zM705 301h1v2h-1zM705 305h1v2h-1zM705 309h1v2h-1zM705 313h1v2h-1zM705 317h1v2h-1zM705 321h1v2h-1zM705 325h1v2h-1zM705 329h1v2h-1zM705 333h1v2h-1zM705 337h1v2h-1zM705 341h1v2h-1zM705 345h1v2h-1zM705 349h1v2h-1zM705 353h1v2h-1zM705 357h1v2h-1zM705 361h1v2h-1zM705 365h1v2h-1zM705 369h1v2h-1zM705 373h1v2h-1zM705 377h1v2h-1zM705 381h1v2h-1zM705 385h1v1h-1zM824 45h1v2h-1zM824 49h1v2h-1zM824 53h1v2h-1zM824 57h1v2h-1zM824 61h1v2h-1zM824 65h1v2h-1zM824 69h1v2h-1zM824 73h1v2h-1zM824 77h1v2h-1zM824 81h1v2h-1zM824 85h1v2h-1zM824 89h1v2h-1zM824 93h1v2h-1zM824 97h1v2h-1zM824 101h1v2h-1zM824 105h1v2h-1zM824 109h1v2h-1zM824 113h1v2h-1zM824 117h1v2h-1zM824 121h1v2h-1zM824 125h1v2h-1zM824 129h1v2h-1zM824 133h1v2h-1zM824 137h1v2h-1zM824 141h1v2h-1zM824 145h1v2h-1zM824 149h1v2h-1zM824 153h1v2h-1zM824 157h1v2h-1zM824 161h1v2h-1zM824 165h1v2h-1zM824 169h1v2h-1zM824 173h1v2h-1zM824 177h1v2h-1zM824 181h1v2h-1zM824 185h1v2h-1zM824 189h1v2h-1zM824 193h1v2h-1zM824 197h1v2h-1zM824 201h1v2h-1zM824 205h1v2h-1zM824 209h1v2h-1zM824 213h1v2h-1zM824 217h1v2h-1zM824 221h1v2h-1zM824 225h1v2h-1zM824 229h1v2h-1zM824 233h1v2h-1zM824 237h1v2h-1zM824 241h1v2h-1zM824 245h1v2h-1zM824 249h1v2h-1zM824 253h1v2h-1zM824 257h1v2h-1zM824 261h1v2h-1zM824 265h1v2h-1zM824 269h1v2h-1zM824 273h1v2h-1zM824 277h1v2h-1zM824 281h1v2h-1zM824 285h1v2h-1zM824 289h1v2h-1zM824 293h1v2h-1zM824 297h1v2h-1zM824 301h1v2h-1zM824 305h1v2h-1zM824 309h1v2h-1zM824 313h1v2h-1zM824 317h1v2h-1zM824 321h1v2h-1zM824 325h1v2h-1zM824 329h1v2h-1zM824 333h1v2h-1zM824 337h1v2h-1zM824 341h1v2h-1zM824 345h1v2h-1zM824 349h1v2h-1zM824 353h1v2h-1zM824 357h1v2h-1zM824 361h1v2h-1zM824 365h1v2h-1zM824 369h1v2h-1zM824 373h1v2h-1zM824 377h1v2h-1zM824 381h1v2h-1zM824 385h1v1h-1zM55 329h2v1h-2zM59 329h2v1h-2zM63 329h2v1h-2zM67 329h2v1h-2zM71 329h2v1h-2zM75 329h2v1h-2zM79 329h2v1h-2zM83 329h2v1h-2zM87 329h2v1h-2zM91 329h2v1h-2zM95 329h2v1h-2zM99 329h2v1h-2zM103 329h2v1h-2zM107 329h2v1h-2zM111 329h2v1h-2zM115 329h2v1h-2zM119 329h2v1h-2zM123 329h2v1h-2zM127 329h2v1h-2zM131 329h2v1h-2zM135 329h2v1h-2zM139 329h2v1h-2zM143 329h2v1h-2zM147 329h2v1h-2zM151 329h2v1h-2zM155 329h2v1h-2zM159 329h2v1h-2zM163 329h2v1h-2zM167 329h2v1h-2zM171 329h2v1h-2zM175 329h2v1h-2zM179 329h2v1h-2zM183 329h2v1h-2zM187 329h2v1h-2zM191 329h2v1h-2zM195 329h2v1h-2zM199 329h2v1h-2zM203 329h2v1h-2zM207 329h2v1h-2zM211 329h2v1h-2zM215 329h2v1h-2zM219 329h2v1h-2zM223 329h2v1h-2zM227 329h2v1h-2zM231 329h2v1h-2zM235 329h2v1h-2zM239 329h2v1h-2zM243 329h2v1h-2zM247 329h2v1h-2zM251 329h2v1h-2zM255 329h2v1h-2zM259 329h2v1h-2zM263 329h2v1h-2zM267 329h2v1h-2zM271 329h2v1h-2zM275 329h2v1h-2zM279 329h2v1h-2zM283 329h2v1h-2zM287 329h2v1h-2zM291 329h2v1h-2zM295 329h2v1h-2zM299 329h2v1h-2zM303 329h2v1h-2zM307 329h2v1h-2zM311 329h2v1h-2zM315 329h2v1h-2zM319 329h2v1h-2zM323 329h2v1h-2zM327 329h2v1h-2zM331 329h2v1h-2zM335 329h2v1h-2zM339 329h2v1h-2zM343 329h2v1h-2zM347 329h2v1h-2zM351 329h2v1h-2zM355 329h2v1h-2zM359 329h2v1h-2zM363 329h2v1h-2zM367 329h2v1h-2zM371 329h2v1h-2zM375 329h2v1h-2zM379 329h2v1h-2zM383 329h2v1h-2zM387 329h2v1h-2zM391 329h2v1h-2zM395 329h2v1h-2zM399 329h2v1h-2zM403 329h2v1h-2zM407 329h2v1h-2zM411 329h2v1h-2zM415 329h2v1h-2zM419 329h2v1h-2zM423 329h2v1h-2zM427 329h2v1h-2zM431 329h2v1h-2zM435 329h2v1h-2zM439 329h2v1h-2zM443 329h2v1h-2zM447 329h2v1h-2zM451 329h2v1h-2zM455 329h2v1h-2zM459 329h2v1h-2zM463 329h2v1h-2zM467 329h2v1h-2zM471 329h2v1h-2zM475 329h2v1h-2zM479 329h2v1h-2zM483 329h2v1h-2zM487 329h2v1h-2zM491 329h2v1h-2zM495 329h2v1h-2zM499 329h2v1h-2zM503 329h2v1h-2zM507 329h2v1h-2zM511 329h2v1h-2zM515 329h2v1h-2zM519 329h2v1h-2zM523 329h2v1h-2zM527 329h2v1h-2zM531 329h2v1h-2zM535 329h2v1h-2zM539 329h2v1h-2zM543 329h2v1h-2zM547 329h2v1h-2zM551 329h2v1h-2zM555 329h2v1h-2zM559 329h2v1h-2zM563 329h2v1h-2zM567 329h2v1h-2zM571 329h2v1h-2zM575 329h2v1h-2zM579 329h2v1h-2zM583 329h2v1h-2zM587 329h2v1h-2zM591 329h2v1h-2zM595 329h2v1h-2zM599 329h2v1h-2zM603 329h2v1h-2zM607 329h2v1h-2zM611 329h2v1h-2zM615 329h2v1h-2zM619 329h2v1h-2zM623 329h2v1h-2zM627 329h2v1h-2zM631 329h2v1h-2zM635 329h2v1h-2zM639 329h2v1h-2zM643 329h2v1h-2zM647 329h2v1h-2zM651 329h2v1h-2zM655 329h2v1h-2zM659 329h2v1h-2zM663 329h2v1h-2zM667 329h2v1h-2zM671 329h2v1h-2zM675 329h2v1h-2zM679 329h2v1h-2zM683 329h2v1h-2zM687 329h2v1h-2zM691 329h2v1h-2zM695 329h2v1h-2zM699 329h2v1h-2zM703 329h2v1h-2zM707 329h2v1h-2zM711 329h2v1h-2zM715 329h2v1h-2zM719 329h2v1h-2zM723 329h2v1h-2zM727 329h2v1h-2zM731 329h2v1h-2zM735 329h2v1h-2zM739 329h2v1h-2zM743 329h2v1h-2zM747 329h2v1h-2zM751 329h2v1h-2zM755 329h2v1h-2zM759 329h2v1h-2zM763 329h2v1h-2zM767 329h2v1h-2zM771 329h2v1h-2zM775 329h2v1h-2zM779 329h2v1h-2zM783 329h2v1h-2zM787 329h2v1h-2zM791 329h2v1h-2zM795 329h2v1h-2zM799 329h2v1h-2zM803 329h2v1h-2zM807 329h2v1h-2zM811 329h2v1h-2zM815 329h2v1h-2zM819 329h2v1h-2zM823 329h2v1h-2zM827 329h2v1h-2zM831 329h2v1h-2zM835 329h2v1h-2zM839 329h2v1h-2zM843 329h2v1h-2zM847 329h2v1h-2zM851 329h2v1h-2zM855 329h2v1h-2zM859 329h2v1h-2zM863 329h2v1h-2zM867 329h2v1h-2zM871 329h2v1h-2zM875 329h2v1h-2zM879 329h2v1h-2zM883 329h2v1h-2zM887 329h2v1h-2zM891 329h2v1h-2zM895 329h2v1h-2zM899 329h2v1h-2zM903 329h2v1h-2zM907 329h2v1h-2zM911 329h2v1h-2zM915 329h2v1h-2zM919 329h2v1h-2zM923 329h2v1h-2zM927 329h2v1h-2zM931 329h2v1h-2zM935 329h2v1h-2zM939 329h2v1h-2zM55 272h2v1h-2zM59 272h2v1h-2zM63 272h2v1h-2zM67 272h2v1h-2zM71 272h2v1h-2zM75 272h2v1h-2zM79 272h2v1h-2zM83 272h2v1h-2zM87 272h2v1h-2zM91 272h2v1h-2zM95 272h2v1h-2zM99 272h2v1h-2zM103 272h2v1h-2zM107 272h2v1h-2zM111 272h2v1h-2zM115 272h2v1h-2zM119 272h2v1h-2zM123 272h2v1h-2zM127 272h2v1h-2zM131 272h2v1h-2zM135 272h2v1h-2zM139 272h2v1h-2zM143 272h2v1h-2zM147 272h2v1h-2zM151 272h2v1h-2zM155 272h2v1h-2zM159 272h2v1h-2zM163 272h2v1h-2zM167 272h2v1h-2zM171 272h2v1h-2zM175 272h2v1h-2zM179 272h2v1h-2zM183 272h2v1h-2zM187 272h2v1h-2zM191 272h2v1h-2zM195 272h2v1h-2zM199 272h2v1h-2zM203 272h2v1h-2zM207 272h2v1h-2zM211 272h2v1h-2zM215 272h2v1h-2zM219 272h2v1h-2zM223 272h2v1h-2zM227 272h2v1h-2zM231 272h2v1h-2zM235 272h2v1h-2zM239 272h2v1h-2zM243 272h2v1h-2zM247 272h2v1h-2zM251 272h2v1h-2zM255 272h2v1h-2zM259 272h2v1h-2zM263 272h2v1h-2zM267 272h2v1h-2zM271 272h2v1h-2zM275 272h2v1h-2zM279 272h2v1h-2zM283 272h2v1h-2zM287 272h2v1h-2zM291 272h2v1h-2zM295 272h2v1h-2zM299 272h2v1h-2zM303 272h2v1h-2zM307 272h2v1h-2zM311 272h2v1h-2zM315 272h2v1h-2zM319 272h2v1h-2zM323 272h2v1h-2zM327 272h2v1h-2zM331 272h2v1h-2zM335 272h2v1h-2zM339 272h2v1h-2zM343 272h2v1h-2zM347 272h2v1h-2zM351 272h2v1h-2zM355 272h2v1h-2zM359 272h2v1h-2zM363 272h2v1h-2zM367 272h2v1h-2zM371 272h2v1h-2zM375 272h2v1h-2zM379 272h2v1h-2zM383 272h2v1h-2zM387 272h2v1h-2zM391 272h2v1h-2zM395 272h2v1h-2zM399 272h2v1h-2zM403 272h2v1h-2zM407 272h2v1h-2zM411 272h2v1h-2zM415 272h2v1h-2zM419 272h2v1h-2zM423 272h2v1h-2zM427 272h2v1h-2zM431 272h2v1h-2zM435 272h2v1h-2zM439 272h2v1h-2zM443 272h2v1h-2zM447 272h2v1h-2zM451 272h2v1h-2zM455 272h2v1h-2zM459 272h2v1h-2zM463 272h2v1h-2zM467 272h2v1h-2zM471 272h2v1h-2zM475 272h2v1h-2zM479 272h2v1h-2zM483 272h2v1h-2zM487 272h2v1h-2zM491 272h2v1h-2zM495 272h2v1h-2zM499 272h2v1h-2zM503 272h2v1h-2zM507 272h2v1h-2zM511 272h2v1h-2zM515 272h2v1h-2zM519 272h2v1h-2zM523 272h2v1h-2zM527 272h2v1h-2zM531 272h2v1h-2zM535 272h2v1h-2zM539 272h2v1h-2zM543 272h2v1h-2zM547 272h2v1h-2zM551 272h2v1h-2zM555 272h2v1h-2zM559 272h2v1h-2zM563 272h2v1h-2zM567 272h2v1h-2zM571 272h2v1h-2zM575 272h2v1h-2zM579 272h2v1h-2zM583 272h2v1h-2zM587 272h2v1h-2zM591 272h2v1h-2zM595 272h2v1h-2zM599 272h2v1h-2zM603 272h2v1h-2zM607 272h2v1h-2zM611 272h2v1h-2zM615 272h2v1h-2zM619 272h2v1h-2zM623 272h2v1h-2zM627 272h2v1h-2zM631 272h2v1h-2zM635 272h2v1h-2zM639 272h2v1h-2zM643 272h2v1h-2zM647 272h2v1h-2zM651 272h2v1h-2zM655 272h2v1h-2zM659 272h2v1h-2zM663 272h2v1h-2zM667 272h2v1h-2zM671 272h2v1h-2zM675 272h2v1h-2zM679 272h2v1h-2zM683 272h2v1h-2zM687 272h2v1h-2zM691 272h2v1h-2zM695 272h2v1h-2zM699 272h2v1h-2zM703 272h2v1h-2zM707 272h2v1h-2zM711 272h2v1h-2zM715 272h2v1h-2zM719 272h2v1h-2zM723 272h2v1h-2zM727 272h2v1h-2zM731 272h2v1h-2zM735 272h2v1h-2zM739 272h2v1h-2zM743 272h2v1h-2zM747 272h2v1h-2zM751 272h2v1h-2zM755 272h2v1h-2zM759 272h2v1h-2zM763 272h2v1h-2zM767 272h2v1h-2zM771 272h2v1h-2zM775 272h2v1h-2zM779 272h2v1h-2zM783 272h2v1h-2zM787 272h2v1h-2zM791 272h2v1h-2zM795 272h2v1h-2zM799 272h2v1h-2zM803 272h2v1h-2zM807 272h2v1h-2zM811 272h2v1h-2zM815 272h2v1h-2zM819 272h2v1h-2zM823 272h2v1h-2zM827 272h2v1h-2zM831 272h2v1h-2zM835 272h2v1h-2zM839 272h2v1h-2zM843 272h2v1h-2zM847 272h2v1h-2zM851 272h2v1h-2zM855 272h2v1h-2zM859 272h2v1h-2zM863 272h2v1h-2zM867 272h2v1h-2zM871 272h2v1h-2zM875 272h2v1h-2zM879 272h2v1h-2zM883 272h2v1h-2zM887 272h2v1h-2zM891 272h2v1h-2zM895 272h2v1h-2zM899 272h2v1h-2zM903 272h2v1h-2zM907 272h2v1h-2zM911 272h2v1h-2zM915 272h2v1h-2zM919 272h2v1h-2zM923 272h2v1h-2zM927 272h2v1h-2zM931 272h2v1h-2zM935 272h2v1h-2zM939 272h2v1h-2zM55 215h2v1h-2zM59 215h2v1h-2zM63 215h2v1h-2zM67 215h2v1h-2zM71 215h2v1h-2zM75 215h2v1h-2zM79 215h2v1h-2zM83 215h2v1h-2zM87 215h2v1h-2zM91 215h2v1h-2zM95 215h2v1h-2zM99 215h2v1h-2zM103 215h2v1h-2zM107 215h2v1h-2zM111 215h2v1h-2zM115 215h2v1h-2zM119 215h2v1h-2zM123 215h2v1h-2zM127 215h2v1h-2zM131 215h2v1h-2zM135 215h2v1h-2zM139 215h2v1h-2zM143 215h2v1h-2zM147 215h2v1h-2zM151 215h2v1h-2zM155 215h2v1h-2zM159 215h2v1h-2zM163 215h2v1h-2zM167 215h2v1h-2zM171 215h2v1h-2zM175 215h2v1h-2zM179 215h2v1h-2zM183 215h2v1h-2zM187 215h2v1h-2zM191 215h2v1h-2zM195 215h2v1h-2zM199 215h2v1h-2zM203 215h2v1h-2zM207 215h2v1h-2zM211 215h2v1h-2zM215 215h2v1h-2zM219 215h2v1h-2zM223 215h2v1h-2zM227 215h2v1h-2zM231 215h2v1h-2zM235 215h2v1h-2zM239 215h2v1h-2zM243 215h2v1h-2zM247 215h2v1h-2zM251 215h2v1h-2zM255 215h2v1h-2zM259 215h2v1h-2zM263 215h2v1h-2zM267 215h2v1h-2zM271 215h2v1h-2zM275 215h2v1h-2zM279 215h2v1h-2zM283 215h2v1h-2zM287 215h2v1h-2zM291 215h2v1h-2zM295 215h2v1h-2zM299 215h2v1h-2zM303 215h2v1h-2zM307 215h2v1h-2zM311 215h2v1h-2zM315 215h2v1h-2zM319 215h2v1h-2zM323 215h2v1h-2zM327 215h2v1h-2zM331 215h2v1h-2zM335 215h2v1h-2zM339 215h2v1h-2zM343 215h2v1h-2zM347 215h2v1h-2zM351 215h2v1h-2zM355 215h2v1h-2zM359 215h2v1h-2zM363 215h2v1h-2zM367 215h2v1h-2zM371 215h2v1h-2zM375 215h2v1h-2zM379 215h2v1h-2zM383 215h2v1h-2zM387 215h2v1h-2zM391 215h2v1h-2zM395 215h2v1h-2zM399 215h2v1h-2zM403 215h2v1h-2zM407 215h2v1h-2zM411 215h2v1h-2zM415 215h2v1h-2zM419 215h2v1h-2zM423 215h2v1h-2zM427 215h2v1h-2zM431 215h2v1h-2zM435 215h2v1h-2zM439 215h2v1h-2zM443 215h2v1h-2zM447 215h2v1h-2zM451 215h2v1h-2zM455 215h2v1h-2zM459 215h2v1h-2zM463 215h2v1h-2zM467 215h2v1h-2zM471 215h2v1h-2zM475 215h2v1h-2zM479 215h2v1h-2zM483 215h2v1h-2zM487 215h2v1h-2zM491 215h2v1h-2zM495 215h2v1h-2zM499 215h2v1h-2zM503 215h2v1h-2zM507 215h2v1h-2zM511 215h2v1h-2zM515 215h2v1h-2zM519 215h2v1h-2zM523 215h2v1h-2zM527 215h2v1h-2zM531 215h2v1h-2zM535 215h2v1h-2zM539 215h2v1h-2zM543 215h2v1h-2zM547 215h2v1h-2zM551 215h2v1h-2zM555 215h2v1h-2zM559 215h2v1h-2zM563 215h2v1h-2zM567 215h2v1h-2zM571 215h2v1h-2zM575 215h2v1h-2zM579 215h2v1h-2zM583 215h2v1h-2zM587 215h2v1h-2zM591 215h2v1h-2zM595 215h2v1h-2zM599 215h2v1h-2zM603 215h2v1h-2zM607 215h2v1h-2zM611 215h2v1h-2zM615 215h2v1h-2zM619 215h2v1h-2zM623 215h2v1h-2zM627 215h2v1h-2zM631 215h2v1h-2zM635 215h2v1h-2zM639 215h2v1h-2zM643 215h2v1h-2zM647 215h2v1h-2zM651 215h2v1h-2zM655 215h2v1h-2zM659 215h2v1h-2zM663 215h2v1h-2zM667 215h2v1h-2zM671 215h2v1h-2zM675 215h2v1h-2zM679 215h2v1h-2zM683 215h2v1h-2zM687 215h2v1h-2zM691 215h2v1h-2zM695 215h2v1h-2zM699 215h2v1h-2zM703 215h2v1h-2zM707 215h2v1h-2zM711 215h2v1h-2zM715 215h2v1h-2zM719 215h2v1h-2zM723 215h2v1h-2zM727 215h2v1h-2zM731 215h2v1h-2zM735 215h2v1h-2zM739 215h2v1h-2zM743 215h2v1h-2zM747 215h2v1h-2zM751 215h2v1h-2zM755 215h2v1h-2zM759 215h2v1h-2zM763 215h2v1h-2zM767 215h2v1h-2zM771 215h2v1h-2zM775 215h2v1h-2zM779 215h2v1h-2zM783 215h2v1h-2zM787 215h2v1h-2zM791 215h2v1h-2zM795 215h2v1h-2zM799 215h2v1h-2zM803 215h2v1h-2zM807 215h2v1h-2zM811 215h2v1h-2zM815 215h2v1h-2zM819 215h2v1h-2zM823 215h2v1h-2zM827 215h2v1h-2zM831 215h2v1h-2zM835 215h2v1h-2zM839 215h2v1h-2zM843 215h2v1h-2zM847 215h2v1h-2zM851 215h2v1h-2zM855 215h2v1h-2zM859 215h2v1h-2zM863 215h2v1h-2zM867 215h2v1h-2zM871 215h2v1h-2zM875 215h2v1h-2zM879 215h2v1h-2zM883 215h2v1h-2zM887 215h2v1h-2zM891 215h2v1h-2zM895 215h2v1h-2zM899 215h2v1h-2zM903 215h2v1h-2zM907 215h2v1h-2zM911 215h2v1h-2zM915 215h2v1h-2zM919 215h2v1h-2zM923 215h2v1h-2zM927 215h2v1h-2zM931 215h2v1h-2zM935 215h2v1h-2zM939 215h2v1h-2zM55 159h2v1h-2zM59 159h2v1h-2zM63 159h2v1h-2zM67 159h2v1h-2zM71 159h2v1h-2zM75 159h2v1h-2zM79 159h2v1h-2zM83 159h2v1h-2zM87 159h2v1h-2zM91 159h2v1h-2zM95 159h2v1h-2zM99 159h2v1h-2zM103 159h2v1h-2zM107 159h2v1h-2zM111 159h2v1h-2zM115 159h2v1h-2zM119 159h2v1h-2zM123 159h2v1h-2zM127 159h2v1h-2zM131 159h2v1h-2zM135 159h2v1h-2zM139 159h2v1h-2zM143 159h2v1h-2zM147 159h2v1h-2zM151 159h2v1h-2zM155 159h2v1h-2zM159 159h2v1h-2zM163 159h2v1h-2zM167 159h2v1h-2zM171 159h2v1h-2zM175 159h2v1h-2zM179 159h2v1h-2zM183 159h2v1h-2zM187 159h2v1h-2zM191 159h2v1h-2zM195 159h2v1h-2zM199 159h2v1h-2zM203 159h2v1h-2zM207 159h2v1h-2zM211 159h2v1h-2zM215 159h2v1h-2zM219 159h2v1h-2zM223 159h2v1h-2zM227 159h2v1h-2zM231 159h2v1h-2zM235 159h2v1h-2zM239 159h2v1h-2zM243 159h2v1h-2zM247 159h2v1h-2zM251 159h2v1h-2zM255 159h2v1h-2zM259 159h2v1h-2zM263 159h2v1h-2zM267 159h2v1h-2zM271 159h2v1h-2zM275 159h2v1h-2zM279 159h2v1h-2zM283 159h2v1h-2zM287 159h2v1h-2zM291 159h2v1h-2zM295 159h2v1h-2zM299 159h2v1h-2zM303 159h2v1h-2zM307 159h2v1h-2zM311 159h2v1h-2zM315 159h2v1h-2zM319 159h2v1h-2zM323 159h2v1h-2zM327 159h2v1h-2zM331 159h2v1h-2zM335 159h2v1h-2zM339 159h2v1h-2zM343 159h2v1h-2zM347 159h2v1h-2zM351 159h2v1h-2zM355 159h2v1h-2zM359 159h2v1h-2zM363 159h2v1h-2zM367 159h2v1h-2zM371 159h2v1h-2zM375 159h2v1h-2zM379 159h2v1h-2zM383 159h2v1h-2zM387 159h2v1h-2zM391 159h2v1h-2zM395 159h2v1h-2zM399 159h2v1h-2zM403 159h2v1h-2zM407 159h2v1h-2zM411 159h2v1h-2zM415 159h2v1h-2zM419 159h2v1h-2zM423 159h2v1h-2zM427 159h2v1h-2zM431 159h2v1h-2zM435 159h2v1h-2zM439 159h2v1h-2zM443 159h2v1h-2zM447 159h2v1h-2zM451 159h2v1h-2zM455 159h2v1h-2zM459 159h2v1h-2zM463 159h2v1h-2zM467 159h2v1h-2zM471 159h2v1h-2zM475 159h2v1h-2zM479 159h2v1h-2zM483 159h2v1h-2zM487 159h2v1h-2zM491 159h2v1h-2zM495 159h2v1h-2zM499 159h2v1h-2zM503 159h2v1h-2zM507 159h2v1h-2zM511 159h2v1h-2zM515 159h2v1h-2zM519 159h2v1h-2zM523 159h2v1h-2zM527 159h2v1h-2zM531 159h2v1h-2zM535 159h2v1h-2zM539 159h2v1h-2zM543 159h2v1h-2zM547 159h2v1h-2zM551 159h2v1h-2zM555 159h2v1h-2zM559 159h2v1h-2zM563 159h2v1h-2zM567 159h2v1h-2zM571 159h2v1h-2zM575 159h2v1h-2zM579 159h2v1h-2zM583 159h2v1h-2zM587 159h2v1h-2zM591 159h2v1h-2zM595 159h2v1h-2zM599 159h2v1h-2zM603 159h2v1h-2zM607 159h2v1h-2zM611 159h2v1h-2zM615 159h2v1h-2zM619 159h2v1h-2zM623 159h2v1h-2zM627 159h2v1h-2zM631 159h2v1h-2zM635 159h2v1h-2zM639 159h2v1h-2zM643 159h2v1h-2zM647 159h2v1h-2zM651 159h2v1h-2zM655 159h2v1h-2zM659 159h2v1h-2zM663 159h2v1h-2zM667 159h2v1h-2zM671 159h2v1h-2zM675 159h2v1h-2zM679 159h2v1h-2zM683 159h2v1h-2zM687 159h2v1h-2zM691 159h2v1h-2zM695 159h2v1h-2zM699 159h2v1h-2zM703 159h2v1h-2zM707 159h2v1h-2zM711 159h2v1h-2zM715 159h2v1h-2zM719 159h2v1h-2zM723 159h2v1h-2zM727 159h2v1h-2zM731 159h2v1h-2zM735 159h2v1h-2zM739 159h2v1h-2zM743 159h2v1h-2zM747 159h2v1h-2zM751 159h2v1h-2zM755 159h2v1h-2zM759 159h2v1h-2zM763 159h2v1h-2zM767 159h2v1h-2zM771 159h2v1h-2zM775 159h2v1h-2zM779 159h2v1h-2zM783 159h2v1h-2zM787 159h2v1h-2zM791 159h2v1h-2zM795 159h2v1h-2zM799 159h2v1h-2zM803 159h2v1h-2zM807 159h2v1h-2zM811 159h2v1h-2zM815 159h2v1h-2zM819 159h2v1h-2zM823 159h2v1h-2zM827 159h2v1h-2zM831 159h2v1h-2zM835 159h2v1h-2zM839 159h2v1h-2zM843 159h2v1h-2zM847 159h2v1h-2zM851 159h2v1h-2zM855 159h2v1h-2zM859 159h2v1h-2zM863 159h2v1h-2zM867 159h2v1h-2zM871 159h2v1h-2zM875 159h2v1h-2zM879 159h2v1h-2zM883 159h2v1h-2zM887 159h2v1h-2zM891 159h2v1h-2zM895 159h2v1h-2zM899 159h2v1h-2zM903 159h2v1h-2zM907 159h2v1h-2zM911 159h2v1h-2zM915 159h2v1h-2zM919 159h2v1h-2zM923 159h2v1h-2zM927 159h2v1h-2zM931 159h2v1h-2zM935 159h2v1h-2zM939 159h2v1h-2zM55 102h2v1h-2zM59 102h2v1h-2zM63 102h2v1h-2zM67 102h2v1h-2zM71 102h2v1h-2zM75 102h2v1h-2zM79 102h2v1h-2zM83 102h2v1h-2zM87 102h2v1h-2zM91 102h2v1h-2zM95 102h2v1h-2zM99 102h2v1h-2zM103 102h2v1h-2zM107 102h2v1h-2zM111 102h2v1h-2zM115 102h2v1h-2zM119 102h2v1h-2zM123 102h2v1h-2zM127 102h2v1h-2zM131 102h2v1h-2zM135 102h2v1h-2zM139 102h2v1h-2zM143 102h2v1h-2zM147 102h2v1h-2zM151 102h2v1h-2zM155 102h2v1h-2zM159 102h2v1h-2zM163 102h2v1h-2zM167 102h2v1h-2zM171 102h2v1h-2zM175 102h2v1h-2zM179 102h2v1h-2zM183 102h2v1h-2zM187 102h2v1h-2zM191 102h2v1h-2zM195 102h2v1h-2zM199 102h2v1h-2zM203 102h2v1h-2zM207 102h2v1h-2zM211 102h2v1h-2zM215 102h2v1h-2zM219 102h2v1h-2zM223 102h2v1h-2zM227 102h2v1h-2zM231 102h2v1h-2zM235 102h2v1h-2zM239 102h2v1h-2zM243 102h2v1h-2zM247 102h2v1h-2zM251 102h2v1h-2zM255 102h2v1h-2zM259 102h2v1h-2zM263 102h2v1h-2zM267 102h2v1h-2zM271 102h2v1h-2zM275 102h2v1h-2zM279 102h2v1h-2zM283 102h2v1h-2zM287 102h2v1h-2zM291 102h2v1h-2zM295 102h2v1h-2zM299 102h2v1h-2zM303 102h2v1h-2zM307 102h2v1h-2zM311 102h2v1h-2zM315 102h2v1h-2zM319 102h2v1h-2zM323 102h2v1h-2zM327 102h2v1h-2zM331 102h2v1h-2zM335 102h2v1h-2zM339 102h2v1h-2zM343 102h2v1h-2zM347 102h2v1h-2zM351 102h2v1h-2zM355 102h2v1h-2zM359 102h2v1h-2zM363 102h2v1h-2zM367 102h2v1h-2zM371 102h2v1h-2zM375 102h2v1h-2zM379 102h2v1h-2zM383 102h2v1h-2zM387 102h2v1h-2zM391 102h2v1h-2zM395 102h2v1h-2zM399 102h2v1h-2zM403 102h2v1h-2zM407 102h2v1h-2zM411 102h2v1h-2zM415 102h2v1h-2zM419 102h2v1h-2zM423 102h2v1h-2zM427 102h2v1h-2zM431 102h2v1h-2zM435 102h2v1h-2zM439 102h2v1h-2zM443 102h2v1h-2zM447 102h2v1h-2zM451 102h2v1h-2zM455 102h2v1h-2zM459 102h2v1h-2zM463 102h2v1h-2zM467 102h2v1h-2zM471 102h2v1h-2zM475 102h2v1h-2zM479 102h2v1h-2zM483 102h2v1h-2zM487 102h2v1h-2zM491 102h2v1h-2zM495 102h2v1h-2zM499 102h2v1h-2zM503 102h2v1h-2zM507 102h2v1h-2zM511 102h2v1h-2zM515 102h2v1h-2zM519 102h2v1h-2zM523 102h2v1h-2zM527 102h2v1h-2zM531 102h2v1h-2zM535 102h2v1h-2zM539 102h2v1h-2zM543 102h2v1h-2zM547 102h2v1h-2zM551 102h2v1h-2zM555 102h2v1h-2zM559 102h2v1h-2zM563 102h2v1h-2zM567 102h2v1h-2zM571 102h2v1h-2zM575 102h2v1h-2zM579 102h2v1h-2zM583 102h2v1h-2zM587 102h2v1h-2zM591 102h2v1h-2zM595 102h2v1h-2zM599 102h2v1h-2zM603 102h2v1h-2zM607 102h2v1h-2zM611 102h2v1h-2zM615 102h2v1h-2zM619 102h2v1h-2zM623 102h2v1h-2zM627 102h2v1h-2zM631 102h2v1h-2zM635 102h2v1h-2zM639 102h2v1h-2zM643 102h2v1h-2zM647 102h2v1h-2zM651 102h2v1h-2zM655 102h2v1h-2zM659 102h2v1h-2zM663 102h2v1h-2zM667 102h2v1h-2zM671 102h2v1h-2zM675 102h2v1h-2zM679 102h2v1h-2zM683 102h2v1h-2zM687 102h2v1h-2zM691 102h2v1h-2zM695 102h2v1h-2zM699 102h2v1h-2zM703 102h2v1h-2zM707 102h2v1h-2zM711 102h2v1h-2zM715 102h2v1h-2zM719 102h2v1h-2zM723 102h2v1h-2zM727 102h2v1h-2zM731 102h2v1h-2zM735 102h2v1h-2zM739 102h2v1h-2zM743 102h2v1h-2zM747 102h2v1h-2zM751 102h2v1h-2zM755 102h2v1h-2zM759 102h2v1h-2zM763 102h2v1h-2zM767 102h2v1h-2zM771 102h2v1h-2zM775 102h2v1h-2zM779 102h2v1h-2zM783 102h2v1h-2zM787 102h2v1h-2zM791 102h2v1h-2zM795 102h2v1h-2zM799 102h2v1h-2zM803 102h2v1h-2zM807 102h2v1h-2zM811 102h2v1h-2zM815 102h2v1h-2zM819 102h2v1h-2zM823 102h2v1h-2zM827 102h2v1h-2zM831 102h2v1h-2zM835 102h2v1h-2zM839 102h2v1h-2zM843 102h2v1h-2zM847 102h2v1h-2zM851 102h2v1h-2zM855 102h2v1h-2zM859 102h2v1h-2zM863 102h2v1h-2zM867 102h2v1h-2zM871 102h2v1h-2zM875 102h2v1h-2zM879 102h2v1h-2zM883 102h2v1h-2zM887 102h2v1h-2zM891 102h2v1h-2zM895 102h2v1h-2zM899 102h2v1h-2zM903 102h2v1h-2zM907 102h2v1h-2zM911 102h2v1h-2zM915 102h2v1h-2zM919 102h2v1h-2zM923 102h2v1h-2zM927 102h2v1h-2zM931 102h2v1h-2zM935 102h2v1h-2zM939 102h2v1h-2z" fill="#a0a0a0"/>
</g>
<g id="border" fill="#000">
<rect x="55" y="45" width="888" height="1" fill="#000"/>
<rect x="55" y="386" width="888" height="1" fill="#000"/>
<rect x="55" y="45" width="1" height="342" fill="#000"/>
<rect x="942" y="45" width="1" height="342" fill="#000"/>
<rect x="114" y="46" width="1" height="4" fill="#000"/>
<rect x="114" y="382" width="1" height="4" fill="#000"/>
<rect x="232" y="46" width="1" height="4" fill="#000"/>
<rect x="232" y="382" width="1" height="4" fill="#000"/>
<rect x="351" y="46" width="1" height="4" fill="#000"/>
<rect x="351" y="382" width="1" height="4" fill="#000"/>
<rect x="469" y="46" width="1" height="4" fill="#000"/>
<rect x="469" y="382" width="1" height="4" fill="#000"/>
<rect x="587" y="46" width="1" height="4" fill="#000"/>
<rect x="587" y="382" width="1" height="4" fill="#000"/>
<rect x="705" y="46" width="1" height="4" fill="#000"/>
<rect x="705" y="382" width="1" height="4" fill="#000"/>
<rect x="824" y="46" width="1" height="4" fill="#000"/>
<rect x="824" y="382" width="1" height="4" fill="#000"/>
<rect x="56" y="329" width="4" height="1" fill="#000"/>
<rect x="938" y="329" width="4" height="1" fill="#000"/>
<rect x="56" y="272" width="4" height="1" fill="#000"/>
<rect x="938" y="272" width="4" height="1" fill="#000"/>
<rect x="56" y="215" width="4" height="1" fill="#000"/>
<rect x="938" y="215" width="4" height="1" fill="#000"/>
<rect x="56" y="159" width="4" height="1" fill="#000"/>
<rect x="938" y="159" width="4" height="1" fill="#000"/>
<rect x="56" y="102" width="4" height="1" fill="#000"/>
<rect x="938" y="102" width="4" height="1" fill="#000"/>
<rect x="56" y="45" width="4" height="1" fill="#000"/>
<rect x="938" y="45" width="4" height="1" fill="#000"/>
<rect x="56" y="385" width="4" height="1" fill="#000"/>
<rect x="938" y="385" width="4" height="1" fill="#000"/>
</g>
<path d="M56 385h1v1h-1zM59 385h2v1h-2zM63 385h2v1h-2zM67 385h2v1h-2zM71 385h2v1h-2zM75 385h2v1h-2zM79 385h2v1h-2zM83 385h2v1h-2zM87 385h2v1h-2zM91 385h2v1h-2zM95 385h2v1h-2zM99 385h2v1h-2zM103 385h2v1h-2zM107 385h2v1h-2zM111 385h2v1h-2zM115 385h2v1h-2zM119 385h2v1h-2zM123 385h2v1h-2zM127 385h2v1h-2zM131 385h2v1h-2zM135 385h2v1h-2zM139 385h2v1h-2zM143 385h2v1h-2zM147 385h2v1h-2zM151 385h2v1h-2zM155 385h2v1h-2zM159 385h2v1h-2zM163 385h2v1h-2zM167 385h2v1h-2zM171 385h2v1h-2zM175 385h2v1h-2zM179 385h2v1h-2zM183 385h2v1h-2zM187 385h2v1h-2zM191 385h2v1h-2zM195 385h2v1h-2zM199 385h2v1h-2zM203 385h2v1h-2zM207 385h2v1h-2zM211 385h2v1h-2zM215 385h2v1h-2zM219 385h2v1h-2zM223 385h2v1h-2zM227 385h2v1h-2zM231 385h2v1h-2zM235 385h2v1h-2zM239 385h2v1h-2zM243 385h2v1h-2zM247 385h2v1h-2zM251 385h2v1h-2zM255 385h2v1h-2zM259 385h2v1h-2zM263 385h2v1h-2zM267 385h2v1h-2zM271 385h2v1h-2zM275 385h2v1h-2zM279 385h2v1h-2zM283 385h2v1h-2zM287 385h2v1h-2zM291 385h2v1h-2zM295 385h2v1h-2zM299 385h2v1h-2zM303 385h2v1h-2zM307 385h2v1h-2zM311 385h2v1h-2zM315 385h2v1h-2zM319 385h2v1h-2zM323 385h2v1h-2zM327 385h2v1h-2zM331 385h2v1h-2zM335 385h2v1h-2zM339 385h2v1h-2zM343 385h2v1h-2zM347 385h2v1h-2zM351 385h2v1h-2zM355 385h2v1h-2zM359 385h2v1h-2zM363 385h2v1h-2zM367 385h2v1h-2zM371 385h2v1h-2zM375 385h2v1h-2zM379 385h2v1h-2zM383 385h2v1h-2zM387 385h2v1h-2zM391 385h2v1h-2zM395 385h2v1h-2zM399 385h2v1h-2zM403 385h2v1h-2zM407 385h2v1h-2zM411 385h2v1h-2zM415 385h2v1h-2zM419 385h2v1h-2zM423 385h2v1h-2zM427 385h2v1h-2zM431 385h2v1h-2zM435 385h2v1h-2zM439 385h2v1h-2zM443 385h2v1h-2zM447 385h2v1h-2zM451 385h2v1h-2zM455 385h2v1h-2zM459 385h2v1h-2zM463 385h2v1h-2zM467 385h2v1h-2zM471 385h2v1h-2zM475 385h2v1h-2zM479 385h2v1h-2zM483 385h2v1h-2zM487 385h2v1h-2zM491 385h2v1h-2zM495 385h2v1h-2zM499 385h2v1h-2zM503 385h2v1h-2zM507 385h2v1h-2zM511 385h2v1h-2zM515 385h2v1h-2zM519 385h2v1h-2zM523 385h2v1h-2zM527 385h2v1h-2zM531 385h2v1h-2zM535 385h2v1h-2zM539 385h2v1h-2zM543 385h2v1h-2zM547 385h2v1h-2zM551 385h2v1h-2zM555 385h2v1h-2zM559 385h2v1h-2zM563 385h2v1h-2zM567 385h2v1h-2zM571 385h2v1h-2zM575 385h2v1h-2zM579 385h2v1h-2zM583 385h2v1h-2zM587 385h2v1h-2zM591 385h2v1h-2zM595 385h2v1h-2zM599 385h2v1h-2zM603 385h2v1h-2zM607 385h2v1h-2zM611 385h2v1h-2zM615 385h2v1h-2zM619 385h2v1h-2zM623 385h2v1h-2zM627 385h2v1h-2zM631 385h2v1h-2zM635 385h2v1h-2zM639 385h2v1h-2zM643 385h2v1h-2zM647 385h2v1h-2zM651 385h2v1h-2zM655 385h2v1h-2zM659 385h2v1h-2zM663 385h2v1h-2zM667 385h2v1h-2zM671 385h2v1h-2zM675 385h2v1h-2zM679 385h2v1h-2zM683 385h2v1h-2zM687 385h2v1h-2zM691 385h2v1h-2zM695 385h2v1h-2zM699 385h2v1h-2zM703 385h2v1h-2zM707 385h2v1h-2zM711 385h2v1h-2zM715 385h2v1h-2zM719 385h2v1h-2zM723 385h2v1h-2zM727 385h2v1h-2zM731 385h2v1h-2zM735 385h2v1h-2zM739 385h2v1h-2zM743 385h2v1h-2zM747 385h2v1h-2zM751 385h2v1h-2zM755 385h2v1h-2zM759 385h2v1h-2zM763 385h2v1h-2zM767 385h2v1h-2zM771 385h2v1h-2zM775 385h2v1h-2zM779 385h2v1h-2zM783 385h2v1h-2zM787 385h2v1h-2zM791 385h2v1h-2zM795 385h2v1h-2zM799 385h2v1h-2zM803 385h2v1h-2zM807 385h2v1h-2zM811 385h2v1h-2zM815 385h2v1h-2zM819 385h2v1h-2zM823 385h2v1h-2zM827 385h2v1h-2zM831 385h2v1h-2zM835 385h2v1h-2zM839 385h2v1h-2zM843 385h2v1h-2zM847 385h2v1h-2zM851 385h2v1h-2zM855 385h2v1h-2zM859 385h2v1h-2zM863 385h2v1h-2zM867 385h2v1h-2zM871 385h2v1h-2zM875 385h2v1h-2zM879 385h2v1h-2zM883 385h2v1h-2zM887 385h2v1h-2zM891 385h2v1h-2zM895 385h2v1h-2zM899 385h2v1h-2zM903 385h2v1h-2zM907 385h2v1h-2zM911 385h2v1h-2zM915 385h2v1h-2zM919 385h2v1h-2zM923 385h2v1h-2zM927 385h2v1h-2zM931 385h2v1h-2zM935 385h2v1h-2zM939 385h2v1h-2z" fill="#a0a0a0"/>
<rect x="583" y="44" width="1" height="342" fill="#ff0000"/>
<rect x="1041" y="52" width="41" height="2" fill="#c8c8ff"/>
<rect x="1041" y="67" width="41" height="2" fill="#4848e8"/>
<rect x="1041" y="82" width="41" height="2" fill="#ffff66"/>
<rect x="1041" y="97" width="41" height="2" fill="#b0ff66"/>
<rect x="1041" y="112" width="41" height="2" fill="#00ff00"/>
<rect x="1041" y="127" width="41" height="2" fill="#008000"/>
<use href="#x" x="1060" y="142"/><use href="#q" x="1060" y="157"/><use href="#t" x="1060" y="172"/>
</g>
<g>
<text x="386.09 396.06 404.98 413.90 423.18 426.95 431.40 435.87 446.57 452.07 461.18 469.31 472.88 481.81 485.38 490.00 498.92 503.39 506.97 515.89 524.92 529.38 533.84 545.42 554.34 563.26 572.18 581.10 584.68 593.60 598.95 606.98" y="27">Sade / Precipitation&#160;&#160;Raanujärvi</text>
<text x="45.8" y="389.8" text-anchor="end">0</text>
<text x="45.8" y="332.8" text-anchor="end">1</text>
<text x="45.8" y="275.8" text-anchor="end">2</text>
<text x="45.8" y="218.8" text-anchor="end">3</text>
<text x="45.8" y="162.8" text-anchor="end">4</text>
<text x="45.8" y="105.8" text-anchor="end">5</text>
<text x="45.8" y="48.8" text-anchor="end">6</text>
<text x="94.17 102.16 110.97 115.80 124.02" y="405">10.11</text>
<text x="212.17 220.16 228.97 233.80 242.02" y="405">12.11</text>
<text x="331.17 339.16 347.97 352.81 361.02" y="405">14.11</text>
<text x="449.17 457.16 465.97 470.81 479.02" y="405">16.11</text>
<text x="567.17 575.16 583.97 588.81 597.02" y="405">18.11</text>
<text x="685.17 693.16 701.97 706.81 715.02" y="405">20.11</text>
<text x="804.17 812.16 820.97 825.81 834.02" y="405">22.11</text>
<text x="922.17 930.16 938.97 943.81 952.02" y="405">24.11</text>
<text x="498.2" y="427" text-anchor="middle">Päivä / Date</text>
<text x="9.5" y="445.5" text-anchor="start">2025-11-17 23:19:34 EET</text>
<text x="1032" y="57" text-anchor="end">meps</text>
<text x="1032" y="72" text-anchor="end">meps-med</text>
<text x="1032" y="87" text-anchor="end">max</text>
<text x="1031.6" y="102" text-anchor="end">95%</text>
<text x="1031.6" y="117" text-anchor="end">75%</text>
<text x="1032" y="132" text-anchor="end">mediaani</text>
<text x="1032.6" y="147" text-anchor="end">Har.</text>
<text x="1033" y="162" text-anchor="end">IL</text>
<text x="1032.7" y="177" text-anchor="end">Det.</text>
<text transform="translate(16.5,215.3) rotate(-90)" text-anchor="middle" style="font-size:16.16px">Sade / Precipitation (mm/h)</text>
</g>
</svg>
</body></html>
